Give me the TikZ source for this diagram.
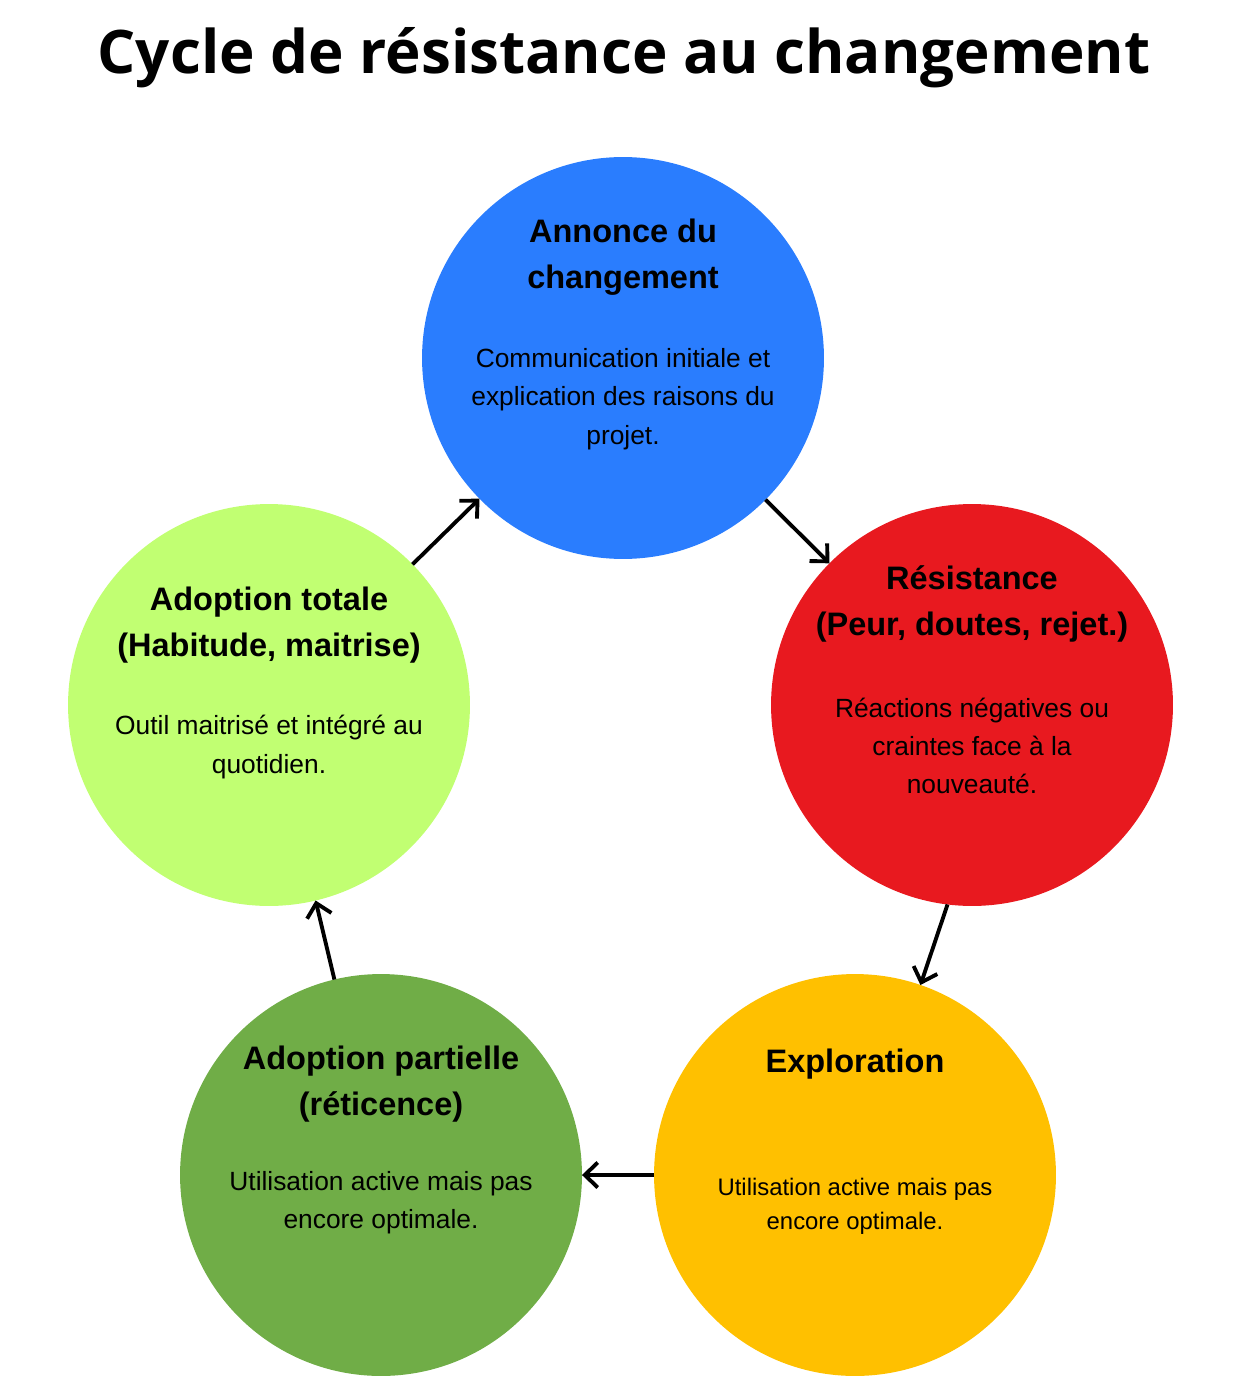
\documentclass[tikz,border=0pt]{standalone}
\usepackage{fontspec}
\setmainfont{Liberation Sans}
\newfontfamily\titlefont{Open Sans}
\usepackage{tikz}
\usetikzlibrary{arrows.meta,positioning}
\definecolor{annblue}{HTML}{2A7DFE}
\definecolor{resred}{HTML}{E8191F}
\definecolor{expgold}{HTML}{FFC000}
\definecolor{partgreen}{HTML}{70AD47}
\definecolor{totlime}{HTML}{C1FF72}
\tikzset{
  stage/.style={circle,fill=#1,draw=none,minimum size=8.04cm,inner sep=0pt,outer sep=0pt},
  head/.style={font=\fontsize{18.5}{26}\selectfont\bfseries,align=center,inner sep=0pt},
  desc/.style={font=\fontsize{15}{21.8}\selectfont,align=center,inner sep=0pt},
  descsm/.style={desc,font=\fontsize{13.6}{19.3}\selectfont},
  arrow/.style={-{Straight Barb[length=2.6mm,width=5mm]},line width=2.2pt,color=black},
}

\begin{document}
\begin{tikzpicture}[x=0.02cm,y=-0.02cm]
    \useasboundingbox (0,0) rectangle (1248,1378);
    \node[font=\titlefont\fontsize{34.2}{40}\selectfont\bfseries] (title) at (624,58) {Cycle de résistance au changement};
    % the five stages
    \node[stage=annblue] (annonce) at (623,358) {};
    \node[stage=resred] (resistance) at (972,705) {};
    \node[stage=expgold] (exploration) at (855,1175) {};
    \node[stage=partgreen] (partielle) at (381,1175) {};
    \node[stage=totlime] (totale) at (269,705) {};
    % texts
    \node[head] (annonceH) at (623,257) {Annonce du\\changement};
    \node[desc] (annonceD) at (623,399) {Communication initiale et\\explication des raisons du\\projet.};
    \node[head] (resistanceH) at (972,604) {Résistance\\(Peur, doutes, rejet.)};
    \node[desc] (resistanceD) at (972,746) {Réactions négatives ou\\craintes face à la\\nouveauté.};
    \node[head] (explorationH) at (855,1064) {Exploration};
    \node[descsm] (explorationD) at (855,1206) {Utilisation active mais pas\\encore optimale.};
    \node[head] (partielleH) at (381,1084) {Adoption partielle\\(réticence)};
    \node[desc] (partielleD) at (381,1203) {Utilisation active mais pas\\encore optimale.};
    \node[head] (totaleH) at (269,625) {Adoption totale\\(Habitude, maitrise)};
    \node[desc] (totaleD) at (269,747) {Outil maitrisé et intégré au\\quotidien.};
    % cycle
    \draw[arrow] (annonce) -- (resistance);
    \draw[arrow] (resistance.-97) -- (exploration.71);
    \draw[arrow] (exploration) -- (partielle);
    \draw[arrow] (partielle) -- (totale);
    \draw[arrow] (totale) -- (annonce);
\end{tikzpicture}
\end{document}
